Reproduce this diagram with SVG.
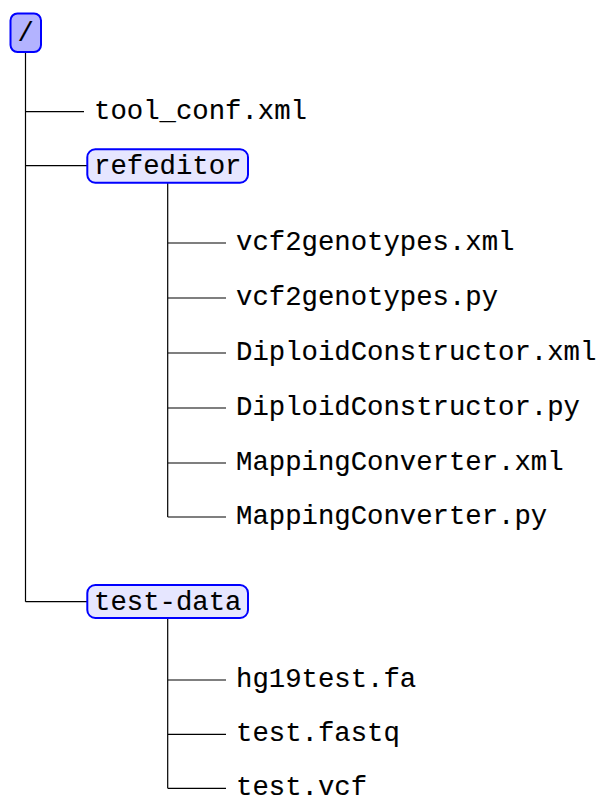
<svg xmlns="http://www.w3.org/2000/svg" width="598" height="804" viewBox="0 0 598 804">
  <style>
    .edge { fill: none; stroke: #000; stroke-width: 1.2; }
    .label { font-family: "Liberation Mono", "DejaVu Sans Mono", monospace; font-size: 27.3px; fill: #000; stroke: #000; stroke-width: 0.12; }
    .root-box { fill: #b3b3ff; stroke: #0000ff; stroke-width: 2; }
    .dir-box { fill: #e6e6ff; stroke: #0000ff; stroke-width: 2; }
  </style>
  <rect width="598" height="804" fill="#fff"/>

  <!-- tree connectors -->
  <g id="connectors">
    <path class="edge" d="M25.5 52 V601.7 M25.5 111.7 H84 M25.5 165.7 H87 M25.5 601.7 H87"/>
    <path class="edge" d="M167.7 182.7 V517 M167.7 243 H226 M167.7 298 H226 M167.7 353 H226 M167.7 408 H226 M167.7 463 H226 M167.7 517 H226"/>
    <path class="edge" d="M167.7 618 V788.3 M167.7 680 H226 M167.7 734.3 H226 M167.7 788.3 H226"/>
  </g>

  <!-- root directory -->
  <g id="root">
    <rect class="root-box" x="10.5" y="13.5" width="30.5" height="38.5" rx="7"/>
    <text class="label" x="25.7" y="41" text-anchor="middle">/</text>
  </g>

  <g id="tool_conf"><text class="label" x="94" y="119">tool_conf.xml</text></g>

  <!-- refeditor directory -->
  <g id="refeditor">
    <rect class="dir-box" x="87.3" y="149.3" width="160.7" height="33.4" rx="8"/>
    <text class="label" x="94" y="174">refeditor</text>
  </g>
  <g id="vcf2genotypes_xml"><text class="label" x="236" y="250">vcf2genotypes.xml</text></g>
  <g id="vcf2genotypes_py"><text class="label" x="236" y="305">vcf2genotypes.py</text></g>
  <g id="DiploidConstructor_xml"><text class="label" x="236" y="360">DiploidConstructor.xml</text></g>
  <g id="DiploidConstructor_py"><text class="label" x="236" y="415">DiploidConstructor.py</text></g>
  <g id="MappingConverter_xml"><text class="label" x="236" y="470">MappingConverter.xml</text></g>
  <g id="MappingConverter_py"><text class="label" x="236" y="524">MappingConverter.py</text></g>

  <!-- test-data directory -->
  <g id="test-data">
    <rect class="dir-box" x="87.3" y="585" width="160.7" height="33" rx="8"/>
    <text class="label" x="94" y="610">test-data</text>
  </g>
  <g id="hg19test_fa"><text class="label" x="236" y="687">hg19test.fa</text></g>
  <g id="test_fastq"><text class="label" x="236" y="741">test.fastq</text></g>
  <g id="test_vcf"><text class="label" x="236" y="795">test.vcf</text></g>
</svg>
